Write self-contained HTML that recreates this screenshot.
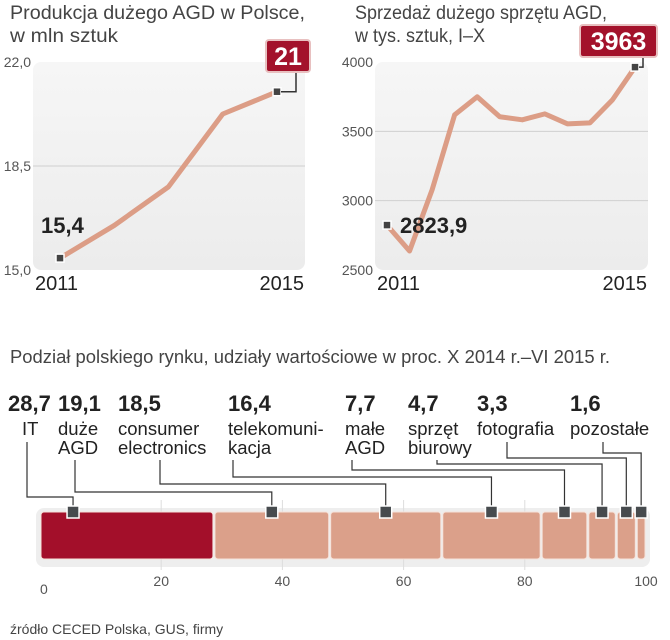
<!DOCTYPE html>
<html><head><meta charset="utf-8"><style>
html,body{margin:0;padding:0;background:#fff;}
svg{display:block;}
.t{font-family:"Liberation Sans Narrow","Liberation Sans",sans-serif;}
</style></head><body>
<svg id="svg" width="670" height="640" viewBox="0 0 670 640">
<defs>
<linearGradient id="bg" x1="0" y1="0" x2="0" y2="1"><stop offset="0" stop-color="#f6f6f6"/><stop offset="1" stop-color="#ececec"/></linearGradient>
</defs>
<g id="c1"></g>
<g id="c2"></g>
<g id="c3"></g>
</svg>
<script>
// Chart 1: production
const prodYears = ['2011','2012','2013','2014','2015'];
const prodValues = [15.4, 16.5, 17.8, 20.25, 21.0];
const prodTicks = ['15,0','18,5','22,0'];
const prodTickVals = [15, 18.5, 22];
// Chart 2: sales
const salesValues = [2823.9, 2637, 3078, 3619, 3749, 3605, 3583, 3626, 3554, 3561, 3727, 3963];
const salesTicks = ['2500','3000','3500','4000'];
const salesTickVals = [2500, 3000, 3500, 4000];
// Chart 3: market shares
const shareCats = [['IT'],['duże','AGD'],['consumer','electronics'],['telekomuni-','kacja'],['małe','AGD'],['sprzęt','biurowy'],['fotografia'],['pozostałe']];
const shareValues = [28.7, 19.1, 18.5, 16.4, 7.7, 4.7, 3.3, 1.6];
const shareLabels = ['28,7','19,1','18,5','16,4','7,7','4,7','3,3','1,6'];
const shareTicks = [0, 20, 40, 60, 80, 100];

const NS='http://www.w3.org/2000/svg';
function mk(parent, tag, attrs, text){const e=document.createElementNS(NS,tag);for(const k in attrs)e.setAttribute(k,attrs[k]);if(text!==undefined)e.textContent=text;parent.appendChild(e);return e;}

function lineChart(g, opt){
  const {x0,x1,y0,y1,vmin,vmax,vals,ticks,tickVals,title,labelFirst,labelLast,labelFirstPos,boxW,tickX} = opt;
  const ys = v => y1 - (v - vmin)/(vmax - vmin)*(y1 - y0);
  const px0 = opt.px0, px1 = opt.px1;
  const xs = i => px0 + i*(px1-px0)/(vals.length-1);
  let e;
  e=mk(g,'text',{x:opt.tx,y:19,'font-size':19,fill:'#444',class:'t',textLength:opt.titleW[0],lengthAdjust:'spacingAndGlyphs'},title[0]);
   
  e=mk(g,'text',{x:opt.tx,y:42,'font-size':19,fill:'#444',class:'t',textLength:opt.titleW[1],lengthAdjust:'spacingAndGlyphs'},title[1]);
   
  e=mk(g,'rect',{x:x0,y:y0,width:x1-x0,height:y1-y0,rx:8,fill:'url(#bg)'});
   
  tickVals.forEach((v,i)=>{
    const y=ys(v);
    if(i>0 && i<tickVals.length-1){
      e=mk(g,'line',{x1:x0,x2:x1,y1:y,y2:y,stroke:'#d0d0d0','stroke-width':1});
       
    }
    e=mk(g,'text',{x:tickX,y:y+5,'font-size':14,fill:'#555','text-anchor':'end',class:'t'},ticks[i]);
     
  });
  e=mk(g,'polyline',{points:vals.map((v,i)=>xs(i)+','+ys(v)).join(' '),fill:'none',stroke:'#dc9d86','stroke-width':5,'stroke-linejoin':'round'});
   
  const n=vals.length-1;
  [0,n].forEach(i=>{
    e=mk(g,'rect',{x:xs(i)-4,y:ys(vals[i])-4,width:8,height:8,fill:'#444',stroke:'#fff','stroke-width':1.5});
     
  });
  e=mk(g,'text',{x:opt.yearX0,y:290,'font-size':20,fill:'#222',class:'t'},'2011');
   
  e=mk(g,'text',{x:opt.yearX1,y:290,'font-size':20,fill:'#222','text-anchor':'end',class:'t'},'2015');
   
  e=mk(g,'text',{x:labelFirstPos[0],y:labelFirstPos[1],'font-size':22,'font-weight':'bold',fill:'#222',class:'t'},labelFirst);
   
  const lx=xs(n), ly=ys(vals[n]);
  const bx1=opt.boxRight, bx0=bx1-boxW, by0=opt.boxTop, by1=by0+32;
  const cx=bx1-14;
  e=mk(g,'polyline',{points:`${lx+4},${ly} ${cx},${ly} ${cx},${by1}`,fill:'none',stroke:'#333','stroke-width':1.5});
   
  e=mk(g,'rect',{x:bx0,y:by0,width:boxW,height:32,rx:3,fill:'#a3122b',stroke:'#e8c0c0','stroke-width':2});
   
  e=mk(g,'text',{x:(bx0+bx1)/2,y:by0+25,'font-size':25,'font-weight':'bold',fill:'#fff','text-anchor':'middle',class:'t'},labelLast);
   
}

lineChart(document.getElementById('c1'),{x0:33,x1:305,y0:62,y1:270,vmin:15,vmax:22,vals:prodValues,ticks:prodTicks,tickVals:prodTickVals,
  title:['Produkcja dużego AGD w Polsce,','w mln sztuk'],titleW:[295,108],tx:10,px0:60,px1:277,labelFirst:'15,4',labelFirstPos:[41,233],
  labelLast:'21',boxW:44,boxRight:310,boxTop:40,tickX:31,yearX0:35,yearX1:304});
lineChart(document.getElementById('c2'),{x0:375,x1:648,y0:62,y1:270,vmin:2500,vmax:4000,vals:salesValues,ticks:salesTicks,tickVals:salesTickVals,
  title:['Sprzedaż dużego sprzętu AGD,','w tys. sztuk, I–X'],titleW:[252,130],tx:355,px0:387,px1:635,labelFirst:'2823,9',labelFirstPos:[400,233],
  labelLast:'3963',boxW:77,boxRight:657,boxTop:25,tickX:373,yearX0:377,yearX1:647});

// Chart 3
(function(){
  const g=document.getElementById('c3');
  const bx=v=>40+v*6.06;
  const by0=512, by1=559;
  let e;
  e=mk(g,'text',{x:10,y:363,'font-size':18,fill:'#444',class:'t',textLength:600,lengthAdjust:'spacingAndGlyphs'},'Podział polskiego rynku, udziały wartościowe w proc. X 2014 r.–VI 2015 r.');
   
  e=mk(g,'rect',{x:36,y:by0-4,width:bx(100)-32,height:by1-by0+12,rx:8,fill:'#eeeeee'});
   
  shareTicks.forEach(t=>{
    if(t>0&&t<100){e=mk(g,'line',{x1:bx(t),x2:bx(t),y1:500,y2:570,stroke:'#ddd','stroke-width':1});
     }
    e=mk(g,'text',{x:bx(t),y:t===0?594:586,'font-size':14,fill:'#555','text-anchor':t===0?'start':'middle',class:'t'},String(t));
     
  });
  const labelX=[8,58,118,228,345,408,477,570];
  const vertX=[27,75,160,233,352,437,507,603];
  const horizY=[497,492,484,477,470,464,458,453];
  let cum=0;
  shareValues.forEach((v,i)=>{
    const s=cum, en=cum+v; cum=en;
    e=mk(g,'rect',{x:bx(s)+1,y:by0,width:bx(en)-bx(s)-2,height:by1-by0,rx:3,fill:i===0?'#a30f2a':'#dba08a',stroke:'#f6e2da','stroke-width':1});
     
  });
  cum=0;
  shareValues.forEach((v,i)=>{
    const s=cum; cum+=v;
    const mx = i===0 ? bx(s+v*0.19) : bx(s+v/2);
    const lines=shareCats[i];
    const startY = lines.length>1 ? 460 : 442;
    e=mk(g,'polyline',{points:`${vertX[i]},${startY} ${vertX[i]},${horizY[i]} ${mx},${horizY[i]} ${mx},${by0}`,fill:'none',stroke:'#333','stroke-width':1.2});
     
    e=mk(g,'rect',{x:mx-6,y:by0-6,width:12,height:12,fill:'#474b4e',stroke:'#fff','stroke-width':1.5});
     
    e=mk(g,'text',{x:labelX[i],y:411,'font-size':22,'font-weight':'bold',fill:'#222',class:'t'},shareLabels[i]);
     
    lines.forEach((ln,j)=>{
      e=mk(g,'text',{x:labelX[i]+(i===0?14:0),y:435+j*19,'font-size':18.5,fill:'#222',class:'t'},ln);
       
    });
  });
  e=mk(g,'text',{x:10,y:634,'font-size':14,fill:'#444',class:'t'},'źródło CECED Polska, GUS, firmy');
   
})();
</script>
</body></html>
